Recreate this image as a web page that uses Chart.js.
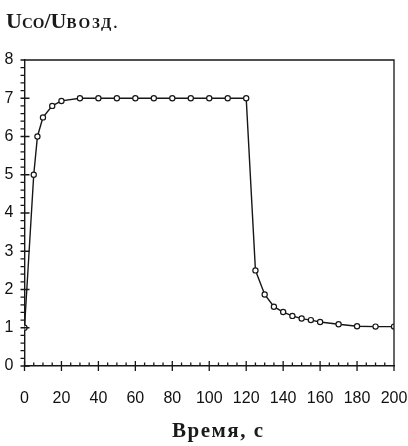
<!DOCTYPE html>
<html>
<head>
<meta charset="utf-8">
<script src="https://cdn.jsdelivr.net/npm/chart.js@4.4.1/dist/chart.umd.min.js"></script>
<style>
  html, body { margin: 0; padding: 0; background: #fff; }
  #wrap { position: relative; width: 408px; height: 446px; }
  .lbl { position: absolute; font-family: 'Liberation Serif', 'Times New Roman', serif; font-weight: bold; color: #1a1a1a; line-height: 1; white-space: nowrap; }
  #ytitle { left: 6px; top: 10px; font-size: 22px; }
  #ytitle .s { font-size: 15px; }
  #ytitle .s2 { font-size: 15px; letter-spacing: 2px; }
  #xtitle { left: 172px; top: 420px; font-size: 21px; letter-spacing: 1.5px; }
</style>
</head>
<body>
<div id="wrap">
  <canvas id="chart"></canvas>
  <div class="lbl" id="ytitle">U<span class="s">CO</span>/U<span class="s2">ВОЗД.</span></div>
  <div class="lbl" id="xtitle">Время, с</div>
</div>
<script>
// время, с
let timeS = [0, 5, 7, 10, 15, 20, 30, 40, 50, 60, 70, 80, 90, 100, 110, 120,
  125, 130, 135, 140, 145, 150, 155, 160, 170, 180, 190, 200]
// отношение Uco/Uвозд
let ratio = [1, 5, 6, 6.5, 6.8, 6.93, 7, 7, 7, 7, 7, 7, 7, 7, 7, 7,
  2.5, 1.87, 1.55, 1.41, 1.31, 1.24, 1.2, 1.15, 1.09, 1.04, 1.03, 1.03]

let xTicks = [0, 20, 40, 60, 80, 100, 120, 140, 160, 180, 200]
let yTicks = [0, 1, 2, 3, 4, 5, 6, 7, 8]
let xMinorStep = 5
let yMinorStep = 0.2

const ink = '#161616'
const tickFont = { family: "'Liberation Sans', Arial, sans-serif", size: 16 }

// рамка сверху/справа и засечки (мелкие и крупные)
const framePlugin = {
  id: 'frame',
  afterDraw(chart) {
    const { ctx, chartArea: a, scales: { x, y } } = chart
    ctx.save()
    ctx.strokeStyle = ink
    ctx.lineWidth = 1.3
    ctx.beginPath()
    ctx.moveTo(a.left, a.top)
    ctx.lineTo(a.right, a.top)
    ctx.lineTo(a.right, a.bottom + 5)
    for (let v = xTicks[0]; v <= xTicks[xTicks.length - 1]; v += xMinorStep) {
      const px = x.getPixelForValue(v)
      const major = xTicks.includes(v)
      ctx.moveTo(px, a.bottom - (major ? 5 : 3.5))
      ctx.lineTo(px, a.bottom + (major ? 5 : 0))
    }
    const n = Math.round((yTicks[yTicks.length - 1] - yTicks[0]) / yMinorStep)
    for (let k = 0; k <= n; k++) {
      const v = yTicks[0] + k * yMinorStep
      const py = y.getPixelForValue(v)
      const major = k % 5 === 0
      ctx.moveTo(a.left - 4, py)
      ctx.lineTo(a.left + (major ? 5 : 0), py)
    }
    ctx.stroke()
    ctx.restore()
  }
}

const data = {
  datasets: [{
    data: timeS.map((t, i) => ({ x: t, y: ratio[i] })),
    borderColor: ink,
    borderWidth: 1.4,
    pointRadius: 2.6,
    pointBorderWidth: 1.2,
    pointBackgroundColor: '#fff',
    pointBorderColor: ink,
    tension: 0
  }]
}

const config = {
  type: 'line',
  data: data,
  options: {
    responsive: true,
    maintainAspectRatio: false,
    animation: false,
    layout: { padding: { top: 60, right: 14, left: 0, bottom: 0 } },
    plugins: { legend: { display: false }, tooltip: { enabled: false } },
    scales: {
      x: {
        type: 'linear',
        min: 0, max: 200,
        afterBuildTicks: (s) => { s.ticks = xTicks.map((v) => ({ value: v })) },
        afterFit: (s) => { s.height = 80; s.paddingLeft = 0; s.paddingRight = 0 },
        grid: { display: true, drawOnChartArea: false, drawTicks: false },
        border: { display: true, color: ink, width: 1.4 },
        ticks: { color: '#111', font: tickFont, padding: 23, maxRotation: 0, autoSkip: false }
      },
      y: {
        min: 0, max: 8,
        afterBuildTicks: (s) => { s.ticks = yTicks.map((v) => ({ value: v })) },
        afterFit: (s) => { s.width = 24.5; s.paddingTop = 0; s.paddingBottom = 0 },
        grid: { display: true, drawOnChartArea: false, drawTicks: false },
        border: { display: true, color: ink, width: 1.4 },
        ticks: { color: '#111', font: tickFont, padding: 11, autoSkip: false }
      }
    }
  },
  plugins: [framePlugin]
}

const ctx = document.getElementById('chart')
new Chart(ctx, config)
</script>
</body>
</html>
